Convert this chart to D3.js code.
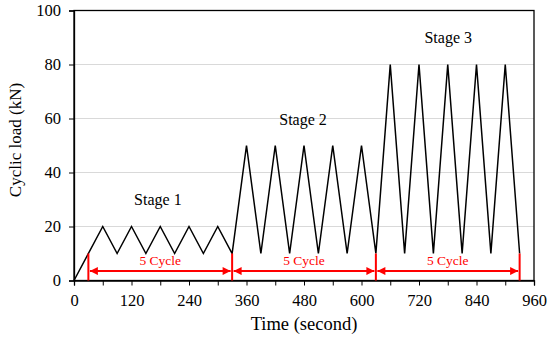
<!DOCTYPE html>
<html>
<head>
<meta charset="utf-8">
<script src="https://cdn.jsdelivr.net/npm/d3@7"></script>
<style>
  body { margin: 0; background: #fff; }
  svg, svg text { font-family: "Liberation Serif", "Times New Roman", Tinos, Times, serif !important; }
</style>
</head>
<body>
<div id="chart"></div>
<script>
// load history
const timeSec = [0, 60, 90, 120, 150, 180, 210, 240, 270, 300, 330,
  360, 390, 420, 450, 480, 510, 540, 570, 600, 630,
  660, 690, 720, 750, 780, 810, 840, 870, 900, 930];
const loadKN = [0, 20, 10, 20, 10, 20, 10, 20, 10, 20, 10,
  50, 10, 50, 10, 50, 10, 50, 10, 50, 10,
  80, 10, 80, 10, 80, 10, 80, 10, 80, 10];

const stageNames = ["Stage 1", "Stage 2", "Stage 3"];
const stageLabelT = [175, 478, 781];
const stageLabelLoad = [28, 57.5, 88];

const cycleBounds = [30, 330, 630, 930];
const cycleBoundLoad = 10;
const cycleText = "5 Cycle";

const xTicks = [0, 120, 240, 360, 480, 600, 720, 840, 960];
const yTicks = [0, 20, 40, 60, 80, 100];

const width = 550, height = 339;
const margin = {top: 10.5, right: 16, bottom: 58.5, left: 74};
const serif = '"Liberation Serif", "Times New Roman", Tinos, Times, serif';

const svg = d3.select("#chart").append("svg")
  .attr("width", width)
  .attr("height", height)
  .attr("font-family", serif);

const x = d3.scaleLinear().domain([0, 960]).range([margin.left, width - margin.right]);
const y = d3.scaleLinear().domain([0, 100]).range([height - margin.bottom, margin.top]);

// gridlines
svg.append("g")
  .selectAll("line")
  .data(yTicks.slice(1, -1))
  .join("line")
  .attr("x1", x(0)).attr("x2", x(960))
  .attr("y1", d => y(d)).attr("y2", d => y(d))
  .attr("stroke", "#d9d9d9")
  .attr("stroke-width", 1);

// frame
svg.append("rect")
  .attr("x", x(0)).attr("y", y(100))
  .attr("width", x(960) - x(0)).attr("height", y(0) - y(100))
  .attr("fill", "none")
  .attr("stroke", "#000")
  .attr("stroke-width", 1.3);

// x axis, minor ticks every 60 s
const xAxis = svg.append("g")
  .attr("transform", `translate(0,${y(0)})`)
  .call(d3.axisBottom(x).tickValues(d3.range(0, 961, 60)).tickSize(5).tickFormat(d => xTicks.includes(d) ? d : ""))
  .attr("font-family", serif);
xAxis.select(".domain").attr("stroke-width", 1.3);
xAxis.selectAll("text").attr("font-size", 16.5).attr("fill", "#000").attr("dy", "1.05em");

const yAxis = svg.append("g")
  .attr("transform", `translate(${x(0)},0)`)
  .call(d3.axisLeft(y).tickValues(yTicks).tickSize(5).tickPadding(8))
  .attr("font-family", serif);
yAxis.select(".domain").attr("stroke-width", 1.3);
yAxis.selectAll("text").attr("font-size", 16.5).attr("fill", "#000");

// load curve
const line = d3.line().x((d, i) => x(timeSec[i])).y(d => y(d));
svg.append("path")
  .datum(loadKN)
  .attr("d", line)
  .attr("fill", "none")
  .attr("stroke", "#000")
  .attr("stroke-width", 1.5);

// stage labels
svg.append("g")
  .selectAll("text")
  .data(stageNames)
  .join("text")
  .attr("x", (d, i) => x(stageLabelT[i]))
  .attr("y", (d, i) => y(stageLabelLoad[i]))
  .attr("text-anchor", "middle")
  .attr("font-size", 16)
  .text(d => d);

// red cycle annotations
const red = "#ff0000";
svg.append("defs").append("marker")
  .attr("id", "arrow")
  .attr("viewBox", "0 0 10 10")
  .attr("refX", 10).attr("refY", 5)
  .attr("markerWidth", 9).attr("markerHeight", 8)
  .attr("markerUnits", "userSpaceOnUse")
  .attr("orient", "auto-start-reverse")
  .append("path")
  .attr("d", "M0,0L10,5L0,10Z")
  .attr("fill", red);

svg.append("g")
  .selectAll("line")
  .data(cycleBounds)
  .join("line")
  .attr("x1", d => x(d)).attr("x2", d => x(d))
  .attr("y1", y(0)).attr("y2", y(cycleBoundLoad))
  .attr("stroke", red)
  .attr("stroke-width", 2);

const spans = d3.pairs(cycleBounds);
svg.append("g")
  .selectAll("line")
  .data(spans)
  .join("line")
  .attr("x1", d => x(d[0]) + 1.5).attr("x2", d => x(d[1]) - 1.5)
  .attr("y1", y(3.5)).attr("y2", y(3.5))
  .attr("stroke", red)
  .attr("stroke-width", 2)
  .attr("marker-start", "url(#arrow)")
  .attr("marker-end", "url(#arrow)");

svg.append("g")
  .selectAll("text")
  .data(spans)
  .join("text")
  .attr("x", d => (x(d[0]) + x(d[1])) / 2)
  .attr("y", y(5.8))
  .attr("text-anchor", "middle")
  .attr("font-size", 13.5)
  .attr("fill", red)
  .text(cycleText);

// axis titles
svg.append("text")
  .attr("x", (x(0) + x(960)) / 2)
  .attr("y", 330)
  .attr("text-anchor", "middle")
  .attr("font-size", 18.5)
  .text("Time (second)");

svg.append("text")
  .attr("transform", "translate(21,140) rotate(-90)")
  .attr("text-anchor", "middle")
  .attr("font-size", 17)
  .text("Cyclic load (kN)");
</script>
</body>
</html>
